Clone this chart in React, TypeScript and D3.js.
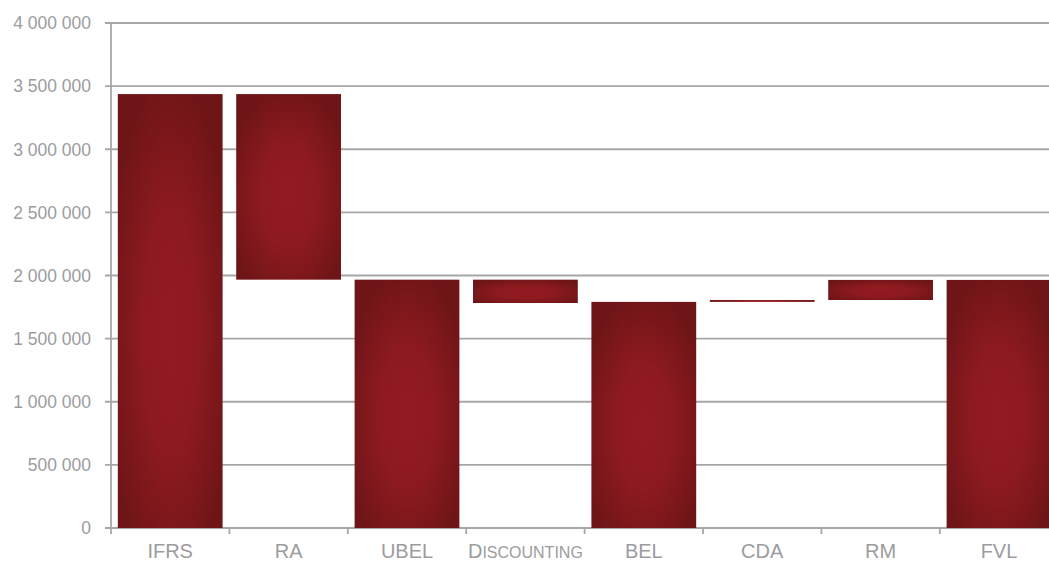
import React from "react";
import * as d3 from "d3";

const categories = ["IFRS", "RA", "UBEL", "Discounting", "BEL", "CDA", "RM", "FVL"];
// bar start / end values (waterfall)
const barStart = [0, 3437000, 0, 1967000, 0, 1791000, 1806000, 0];
const barEnd = [3437000, 1967000, 1967000, 1782000, 1791000, 1806000, 1965000, 1965000];
const yTicks = [0, 500000, 1000000, 1500000, 2000000, 2500000, 3000000, 3500000, 4000000];

const W = 1049;
const H = 563;
const left = 111;
const top = 23;
const bottom = 528;
const bandW = 118.4;

export default function App() {
  const x = d3
    .scaleBand<string>()
    .domain(categories)
    .range([left, left + bandW * categories.length])
    .paddingInner(0.115)
    .paddingOuter(0.0575);
  const y = d3.scaleLinear().domain([0, 4000000]).range([bottom, top]);
  const fmt = (v: number) => d3.format(",")(v).replace(/,/g, " ");
  const grid = "#a7a7a9";
  const txt = "#9c9c9e";
  const font = "'Liberation Sans', Arial, sans-serif";

  return (
    <svg width={W} height={H} style={{ position: "absolute", left: 0, top: 0 }}>
      <defs>
        <radialGradient id="barGrad" cx="0.5" cy="0.55" r="0.6">
          <stop offset="0%" stopColor="#921b21" />
          <stop offset="45%" stopColor="#8d1a1f" />
          <stop offset="100%" stopColor="#6f1517" />
        </radialGradient>
      </defs>
      {/* gridlines */}
      {yTicks.map((t) => (
        <line key={"g" + t} x1={left - 6} x2={W} y1={y(t)} y2={y(t)} stroke={grid} strokeWidth={1.8} />
      ))}
      {/* y axis */}
      <line x1={left} x2={left} y1={top} y2={bottom + 6} stroke={grid} strokeWidth={1.8} />
      {/* x axis ticks */}
      {categories.map((c, i) => (
        <line
          key={"xt" + c}
          x1={left + bandW * (i + 1)}
          x2={left + bandW * (i + 1)}
          y1={bottom}
          y2={bottom + 6}
          stroke={grid}
          strokeWidth={1.8}
        />
      ))}
      {/* bars */}
      {categories.map((c, i) => {
        const y0 = y(Math.max(barStart[i], barEnd[i]));
        const y1 = y(Math.min(barStart[i], barEnd[i]));
        return (
          <rect
            key={"b" + c}
            x={x(c)}
            y={y0}
            width={x.bandwidth()}
            height={Math.max(1, y1 - y0)}
            fill="url(#barGrad)"
          />
        );
      })}
      {/* y labels */}
      {yTicks.map((t) => (
        <text
          key={"yl" + t}
          x={left - 20}
          y={y(t)}
          dy="0.36em"
          textAnchor="end"
          fontFamily={font}
          fontSize={17.5}
          fill={txt}
        >
          {fmt(t)}
        </text>
      ))}
      {/* x labels */}
      {categories.map((c) => (
        <text
          key={"xl" + c}
          x={(x(c) as number) + x.bandwidth() / 2}
          y={558}
          textAnchor="middle"
          fontFamily={font}
          fontSize={20}
          fill={txt}
        >
          {c === "Discounting" ? (
            <>
              <tspan>D</tspan>
              <tspan fontSize={16}>ISCOUNTING</tspan>
            </>
          ) : (
            c
          )}
        </text>
      ))}
    </svg>
  );
}
